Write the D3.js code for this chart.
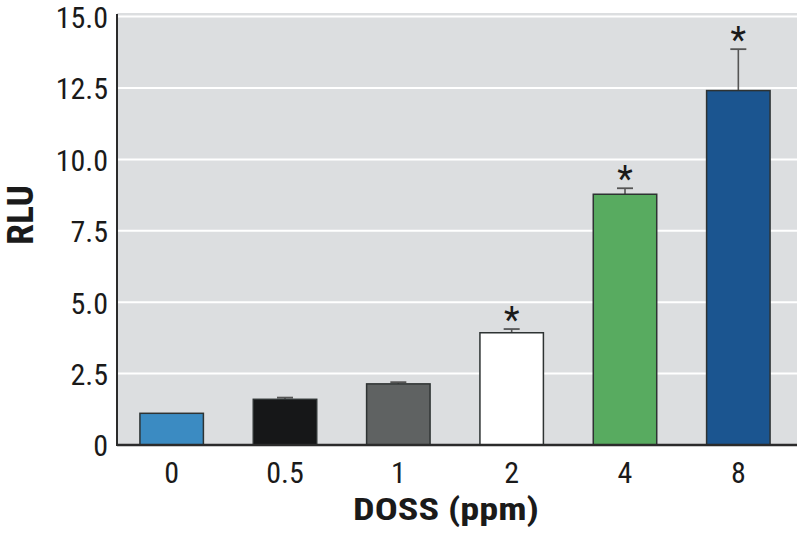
<!DOCTYPE html>
<html><head><meta charset="utf-8">
<script src="https://cdn.jsdelivr.net/npm/d3@7"></script>
<style>body{margin:0;background:#fff}svg{display:block}
text{font-family:"Liberation Sans Narrow","Roboto Condensed","Liberation Sans",sans-serif;}
</style></head><body>
<svg id="c" width="800" height="548"></svg>
<script>
const categories = ["0","0.5","1","2","4","8"];
const values = [1.11, 1.60, 2.14, 3.93, 8.78, 12.41];
const errors = [0.0, 0.06, 0.06, 0.13, 0.21, 1.45];
const significant = [false, false, false, true, true, true];
const colors = ["#3b8bc2","#161718","#5f6262","#ffffff","#58ab60","#1b5590"];
const yTicks = [0, 2.5, 5, 7.5, 10, 12.5, 15];
const yTickLabels = ["0","2.5","5.0","7.5","10.0","12.5","15.0"];

(function(){
const svg = d3.select("#c");
const pL = 117, pR = 797, pT = 13, pB = 445;
const y = d3.scaleLinear().domain([0, 15]).range([pB, 16.6]);
const x = d3.scaleBand().domain(categories).range([115, 795]).paddingInner(0.44).paddingOuter(0.22);
const FF = "'Liberation Sans Narrow','Liberation Sans',sans-serif";

svg.append("rect").attr("x", pL).attr("y", pT).attr("width", pR-pL).attr("height", pB-pT).attr("fill", "#dcdee0");

svg.append("g").selectAll("line").data(yTicks.filter(d => d > 0)).join("line")
  .attr("x1", pL).attr("x2", pR).attr("y1", d => y(d)).attr("y2", d => y(d))
  .attr("stroke", "#ffffff").attr("stroke-width", 2);

const yAxis = d3.axisLeft(y).tickValues(yTicks).tickFormat((d,i) => yTickLabels[i]).tickSize(0).tickPadding(9);
const gy = svg.append("g").attr("transform", `translate(${pL},0)`).call(yAxis);
gy.select(".domain").remove();
gy.selectAll("text").attr("font-size", 30).attr("fill", "#1a1a1a").attr("font-family", FF).attr("dy", "0.36em");

const xAxis = d3.axisBottom(x).tickSize(0).tickPadding(17);
const gx = svg.append("g").attr("transform", `translate(0,${pB})`).call(xAxis);
gx.select(".domain").remove();
gx.selectAll("text").attr("font-size", 30).attr("fill", "#1a1a1a").attr("font-family", FF);

const eb = svg.append("g");
categories.forEach((c, i) => {
  if (errors[i] <= 0) return;
  const cx = x(c) + x.bandwidth()/2;
  eb.append("line").attr("x1", cx).attr("x2", cx).attr("y1", y(values[i])).attr("y2", y(values[i]+errors[i]))
    .attr("stroke", "#555").attr("stroke-width", 1.6);
  eb.append("line").attr("x1", cx-8).attr("x2", cx+8).attr("y1", y(values[i]+errors[i])).attr("y2", y(values[i]+errors[i]))
    .attr("stroke", "#555").attr("stroke-width", 1.8);
});

svg.append("g").selectAll("rect").data(categories).join("rect")
  .attr("x", d => x(d)).attr("width", x.bandwidth())
  .attr("y", (d,i) => y(values[i])).attr("height", (d,i) => pB - y(values[i]))
  .attr("fill", (d,i) => colors[i]).attr("stroke", "#2e3333").attr("stroke-width", 1.5);

svg.append("g").selectAll("text").data(categories.filter((d,i) => significant[i])).join("text")
  .attr("x", d => x(d) + x.bandwidth()/2)
  .attr("y", d => { const i = categories.indexOf(d); return y(values[i]+errors[i]) + 3; })
  .attr("text-anchor", "middle").attr("font-size", 36).attr("fill", "#1a1a1a")
  .attr("font-family", "'Liberation Sans','DejaVu Sans',sans-serif")
  .text("*");

svg.append("line").attr("x1", pL).attr("x2", pL).attr("y1", pT+1).attr("y2", pB+1).attr("stroke", "#2b2b2b").attr("stroke-width", 2);
svg.append("line").attr("x1", pL).attr("x2", pR).attr("y1", pB).attr("y2", pB).attr("stroke", "#2b2b2b").attr("stroke-width", 2.5);

svg.append("text").attr("x", 446).attr("y", 520).attr("text-anchor", "middle")
  .attr("font-size", 32).attr("font-weight", "bold").attr("fill", "#1a1a1a")
  .attr("textLength", 186).attr("lengthAdjust", "spacingAndGlyphs")
  .attr("font-family", FF).text("DOSS (ppm)");
svg.append("text").attr("transform", "translate(33,215) rotate(-90)").attr("text-anchor", "middle")
  .attr("font-size", 36).attr("font-weight", "bold").attr("fill", "#1a1a1a")
  .attr("textLength", 60).attr("lengthAdjust", "spacingAndGlyphs")
  .attr("font-family", FF).text("RLU");
})();
</script></body></html>
